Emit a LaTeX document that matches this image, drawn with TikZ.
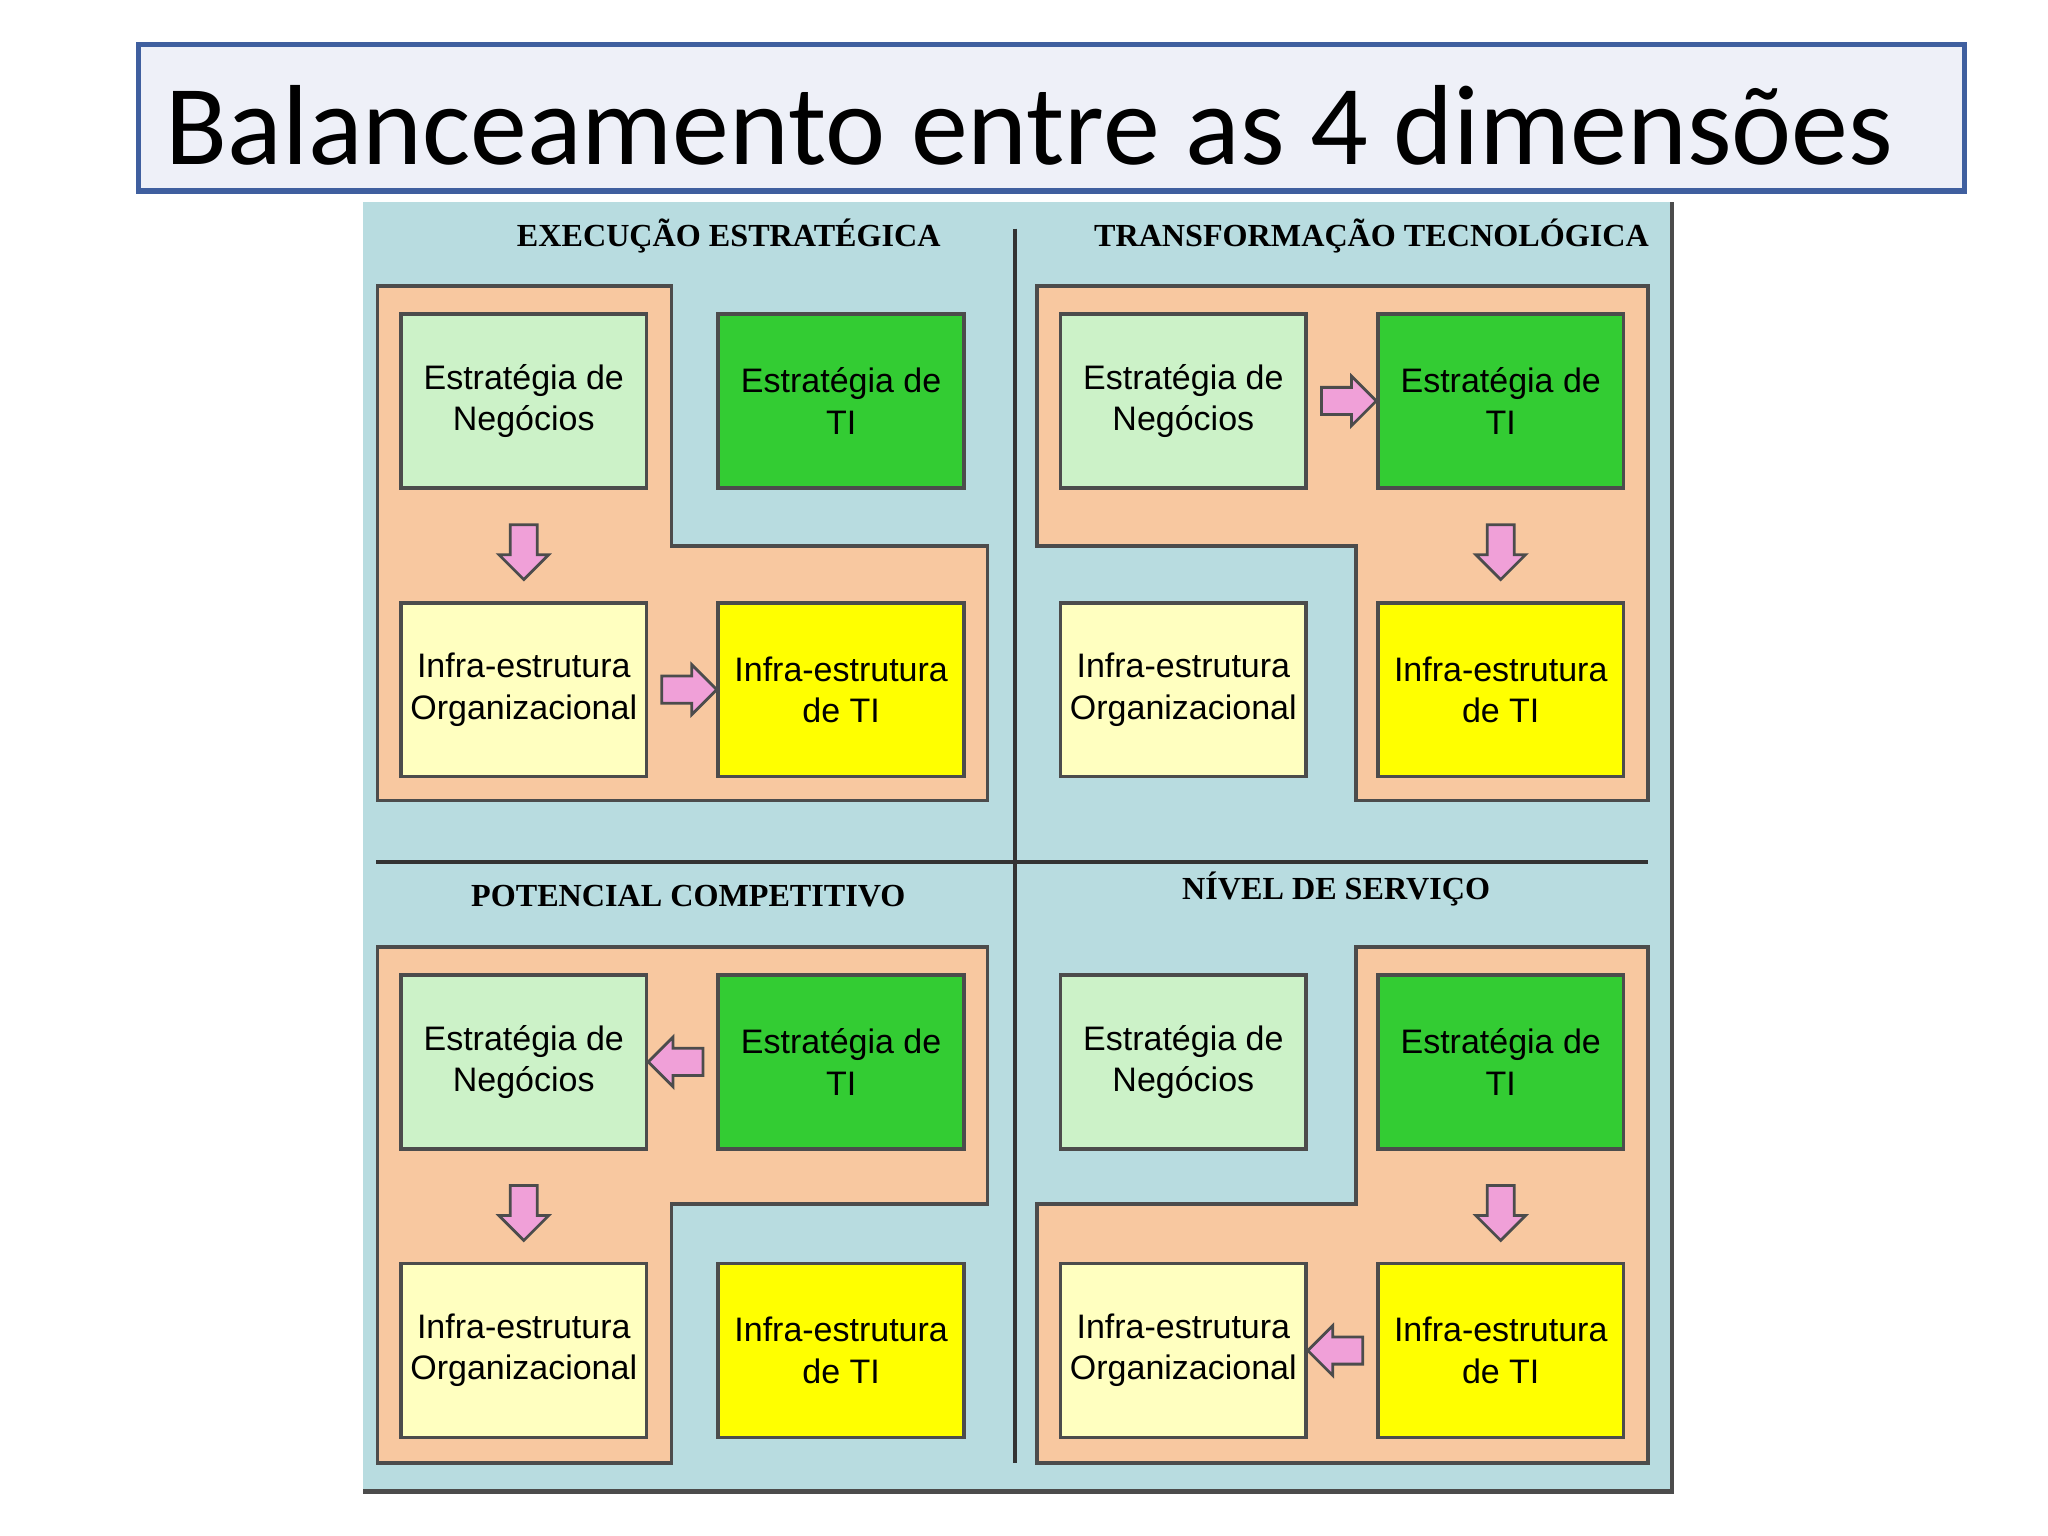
\documentclass[tikz,border=0pt]{standalone}
\usepackage{fontspec}
\setmainfont{Liberation Sans}
\newfontfamily\titlefont{Carlito}
\newfontfamily\headfont{Liberation Serif}
\usetikzlibrary{shapes.arrows,calc}
\definecolor{panel}{HTML}{B8DCE0}
\definecolor{peach}{HTML}{F8C8A0}
\definecolor{lgreen}{HTML}{CCF2C8}
\definecolor{dgreen}{HTML}{33CC33}
\definecolor{lyellow}{HTML}{FFFFC0}
\definecolor{dyellow}{HTML}{FFFF00}
\definecolor{pinka}{HTML}{F0A0D8}
\definecolor{titlefill}{HTML}{EEF0F8}
\definecolor{titledraw}{HTML}{3F5F9F}
\tikzset{
 box/.style={draw=black!70,line width=0.8pt,minimum width=1.88cm,minimum height=1.33cm,align=center,font=\fontsize{7.4}{9}\selectfont,inner sep=0pt},
 reg/.style={fill=peach,draw=black!70,line width=0.8pt},
 barr/.style={single arrow,draw=black!70,fill=pinka,line width=0.6pt,minimum height=0.42cm,minimum width=0.38cm,single arrow head extend=0.05cm,inner sep=0.05cm},
 qt/.style={font=\headfont\bfseries\fontsize{7}{8}\selectfont}
}
\begin{document}
\begin{tikzpicture}[x=0.01cm,y=-0.01cm]
\useasboundingbox[fill=white] (0,0) rectangle (1568,1176);
\node[draw=titledraw,fill=titlefill,line width=1.2pt,minimum width=13.97cm,minimum height=1.12cm,anchor=north west,inner sep=0pt] (title) at (104,32) {};
\node[anchor=west,font=\titlefont\fontsize{24.8}{28}\selectfont,inner sep=0pt] (tt) at (126,96) {Balanceamento entre as 4 dimensões};
\fill[panel] (278,155) rectangle (1280,1142);
\draw[black!70,line width=1pt] (278,1142) -- (1280,1142) -- (1280,155);
\draw[black!80,line width=0.9pt] (777,175) -- (777,1120);
\draw[black!80,line width=0.9pt] (288,660) -- (1262,660);
\node[qt] (q1) at (558,181) {EXECUÇÃO ESTRATÉGICA};
\node[qt] (q2) at (1050,181) {TRANSFORMAÇÃO TECNOLÓGICA};
\node[qt] (q3) at (527,686) {POTENCIAL COMPETITIVO};
\node[qt] (q4) at (1023,681) {NÍVEL DE SERVIÇO};
\draw[reg] (289,219)--(514,219)--(514,418)--(756,418)--(756,613)--(289,613)--cycle;
\draw[reg] (794,219)--(1262,219)--(1262,613)--(1038,613)--(1038,418)--(794,418)--cycle;
\draw[reg] (289,725)--(756,725)--(756,922)--(514,922)--(514,1120)--(289,1120)--cycle;
\draw[reg] (1038,725)--(1262,725)--(1262,1120)--(794,1120)--(794,922)--(1038,922)--cycle;
\foreach \q/\dx/\dy in {a/0/0,b/505/0,c/0/506,d/505/506}{
 \node[box,fill=lgreen] (\q1) at (401+\dx,307+\dy) {Estratégia de\\Negócios};
 \node[box,fill=dgreen] (\q2) at (644+\dx,307+\dy) {Estratégia de\\TI};
 \node[box,fill=lyellow] (\q3) at (401+\dx,528+\dy) {Infra-estrutura\\Organizacional};
 \node[box,fill=dyellow] (\q4) at (644+\dx,528+\dy) {Infra-estrutura\\de TI};
}
\node[barr,rotate=-90] (ar1) at ($(a1.south)!0.5!(a3.north)$) {};
\node[barr] (ar2) at ($(a3.east)!0.5!(a4.west)$) {};
\node[barr] (ar3) at ($(b1.east)!0.5!(b2.west)$) {};
\node[barr,rotate=-90] (ar4) at ($(b2.south)!0.5!(b4.north)$) {};
\node[barr,rotate=180] (ar5) at ($(c2.west)!0.5!(c1.east)$) {};
\node[barr,rotate=-90] (ar6) at ($(c1.south)!0.5!(c3.north)$) {};
\node[barr,rotate=-90] (ar7) at ($(d2.south)!0.5!(d4.north)$) {};
\node[barr,rotate=180] (ar8) at ($(d4.west)!0.5!(d3.east)$) {};
\end{tikzpicture}
\end{document}
